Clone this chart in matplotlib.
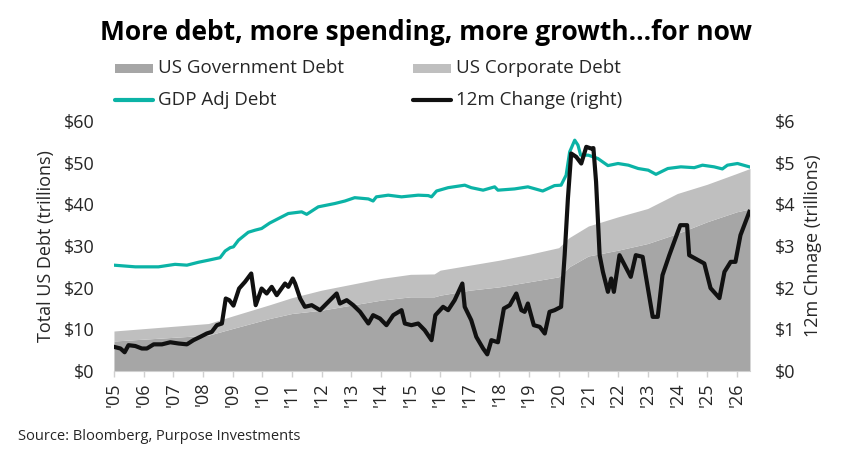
import numpy as np
import matplotlib.pyplot as plt
from matplotlib.patches import Rectangle
from matplotlib.lines import Line2D

plt.rcParams['font.family'] = ['Open Sans', 'DejaVu Sans']

# stacked debt levels (trillions)
stack_years = [2005.0, 2008.19, 2009.0, 2010.25, 2011.0, 2012.0, 2013.0, 2014.0,
               2015.0, 2015.8, 2016.0, 2017.0, 2018.0, 2019.0, 2020.0, 2020.35,
               2021.0, 2022.0, 2023.0, 2024.0, 2025.0, 2026.0, 2026.45]
gov_debt = [7.2, 8.6, 10.2, 12.6, 13.8, 14.6, 15.8, 17.0,
            17.8, 17.8, 18.2, 19.4, 20.2, 21.4, 22.6, 25.0,
            27.6, 29.0, 30.6, 33.0, 35.8, 38.2, 38.9]
corp_debt = [2.4, 2.8, 3.0, 3.3, 3.8, 4.8, 5.0, 5.2,
             5.4, 5.5, 6.0, 6.0, 6.4, 6.6, 7.0, 7.0,
             7.2, 8.0, 8.4, 9.6, 9.0, 9.2, 9.7]

# GDP adjusted debt (left axis)
gdp_years = [2005.0, 2005.72, 2006.5, 2007.06, 2007.46, 2007.85, 2008.19, 2008.58,
             2008.75, 2008.92, 2009.03, 2009.2, 2009.53, 2009.76, 2009.98, 2010.25,
             2010.55, 2010.88, 2011.33, 2011.5, 2011.89, 2012.45, 2012.79, 2013.12,
             2013.58, 2013.74, 2013.85, 2014.25, 2014.7, 2015.26, 2015.6, 2015.71,
             2015.88, 2016.27, 2016.83, 2017.05, 2017.45, 2017.84, 2017.95, 2018.51,
             2018.96, 2019.46, 2019.86, 2020.08, 2020.25, 2020.37, 2020.54, 2020.65,
             2020.74, 2021.0, 2021.32, 2021.66, 2022.0, 2022.35, 2022.68, 2023.02,
             2023.28, 2023.68, 2024.12, 2024.57, 2024.85, 2025.24, 2025.52, 2025.69,
             2026.03, 2026.43]
gdp_adj = [25.4, 25.0, 25.0, 25.6, 25.4, 26.1, 26.6, 27.2,
           28.8, 29.6, 29.8, 31.4, 33.3, 33.8, 34.2, 35.5,
           36.6, 37.8, 38.2, 37.6, 39.4, 40.2, 40.8, 41.6,
           41.3, 40.8, 41.8, 42.2, 41.8, 42.2, 42.1, 41.8,
           43.2, 44.0, 44.6, 44.0, 43.4, 44.2, 43.4, 43.7,
           44.2, 43.2, 44.5, 44.6, 47.0, 52.6, 55.4, 54.2,
           51.8, 51.8, 51.0, 49.3, 49.8, 49.4, 48.6, 48.2,
           47.2, 48.6, 49.0, 48.8, 49.4, 49.0, 48.5, 49.4,
           49.8, 49.0]

# 12m change (right axis)
chg_years = [2005.0, 2005.22, 2005.36, 2005.49, 2005.72, 2005.94, 2006.11, 2006.34,
             2006.62, 2006.9, 2007.18, 2007.46, 2007.68, 2007.91, 2008.13, 2008.3,
             2008.47, 2008.64, 2008.77, 2008.89, 2009.03, 2009.22, 2009.42, 2009.63,
             2009.78, 2009.98, 2010.15, 2010.32, 2010.49, 2010.77, 2010.88, 2011.03,
             2011.11, 2011.28, 2011.44, 2011.67, 2011.95, 2012.23, 2012.51, 2012.62,
             2012.85, 2013.07, 2013.3, 2013.58, 2013.74, 2013.97, 2014.19, 2014.42,
             2014.7, 2014.81, 2015.03, 2015.26, 2015.48, 2015.71, 2015.84, 2016.1,
             2016.27, 2016.49, 2016.75, 2016.83, 2017.05, 2017.22, 2017.45, 2017.59,
             2017.73, 2017.95, 2018.15, 2018.35, 2018.57, 2018.74, 2018.85, 2018.96,
             2019.16, 2019.36, 2019.53, 2019.69, 2019.86, 2020.08, 2020.2, 2020.31,
             2020.42, 2020.59, 2020.76, 2020.93, 2021.09, 2021.17, 2021.26, 2021.38,
             2021.49, 2021.66, 2021.77, 2021.86, 2022.05, 2022.43, 2022.6, 2022.83,
             2023.17, 2023.34, 2023.5, 2023.73, 2024.1, 2024.33, 2024.4, 2024.91,
             2025.12, 2025.42, 2025.59, 2025.8, 2025.96, 2026.13, 2026.43]
chg_12m = [0.58, 0.54, 0.45, 0.62, 0.60, 0.54, 0.54, 0.64,
           0.64, 0.69, 0.66, 0.64, 0.74, 0.82, 0.90, 0.94,
           1.10, 1.14, 1.74, 1.70, 1.57, 1.98, 2.14, 2.34,
           1.58, 1.98, 1.86, 2.02, 1.82, 2.10, 2.02, 2.22,
           2.10, 1.74, 1.54, 1.58, 1.46, 1.66, 1.86, 1.62,
           1.70, 1.58, 1.42, 1.14, 1.34, 1.26, 1.10, 1.34,
           1.46, 1.14, 1.10, 1.14, 0.98, 0.74, 1.34, 1.54,
           1.46, 1.70, 2.10, 1.54, 1.22, 0.82, 0.54, 0.40,
           0.74, 0.69, 1.50, 1.58, 1.86, 1.46, 1.42, 1.62,
           1.10, 1.06, 0.90, 1.42, 1.46, 1.54, 2.78, 4.14,
           5.22, 5.14, 4.98, 5.38, 5.34, 5.35, 4.54, 2.78,
           2.38, 1.90, 2.22, 1.90, 2.78, 2.26, 2.78, 2.74,
           1.30, 1.30, 2.30, 2.78, 3.50, 3.50, 2.78, 2.58,
           1.99, 1.75, 2.38, 2.62, 2.62, 3.26, 3.82]

tick_years = list(range(2005, 2027))
tick_labels = ["'%02d" % (y % 100) for y in tick_years]

gov_color = '#a6a6a6'
corp_color = '#bfbfbf'
teal = '#0bb3a6'
black = '#111111'
text_color = '#262626'

W, H = 853, 449
fig = plt.figure(figsize=(W / 100, H / 100), dpi=100)
ax = fig.add_axes([0.1336, 0.1737, 0.7456, 0.5568])

gov = np.array(gov_debt)
total = gov + np.array(corp_debt)
ax.fill_between(stack_years, 0, gov, color=gov_color, lw=0)
ax.fill_between(stack_years, gov, total, color=corp_color, lw=0)
ax.plot(gdp_years, gdp_adj, color=teal, lw=2.3, solid_joinstyle='round')

ax.set_xlim(2005, 2026.45)
ax.set_ylim(0, 60)
ax.set_yticks(np.arange(0, 61, 10))
ax.set_yticklabels(['$%d' % v for v in range(0, 61, 10)])
ax.set_xticks(tick_years)
ax.set_xticklabels(tick_labels, rotation=90)
ax.tick_params(axis='x', colors='#d0d0d0', labelcolor=text_color, labelsize=13,
               length=4, width=1, pad=4)
ax.tick_params(axis='y', length=0, labelsize=13, labelcolor=text_color, pad=14)
for s in ['top', 'left', 'right']:
    ax.spines[s].set_visible(False)
ax.spines['bottom'].set_color('#d0d0d0')
ax.set_ylabel('Total US Debt (trillions)', fontsize=13, color=text_color, labelpad=6)

ax2 = ax.twinx()
ax2.plot(chg_years, chg_12m, color=black, lw=3, solid_joinstyle='round')
ax2.set_ylim(0, 6)
ax2.set_yticks(range(0, 7))
ax2.set_yticklabels(['$%d' % v for v in range(0, 7)])
ax2.tick_params(axis='y', length=0, labelsize=13, labelcolor=text_color, pad=18)
for s in ['top', 'left', 'right', 'bottom']:
    ax2.spines[s].set_visible(False)
ax2.set_ylabel('12m Chnage (trillions)', fontsize=13, color=text_color, labelpad=6)

fig.text(0.5, 1 - 32 / H, 'More debt, more spending, more growth...for now',
         ha='center', va='center', fontsize=19, fontweight='bold', color='black')

# legend laid out in two rows like the original
legend_items = [('patch', gov_color, 'US Government Debt', 0, 0),
                ('patch', corp_color, 'US Corporate Debt', 1, 0),
                ('line', teal, 'GDP Adj Debt', 0, 1),
                ('line', black, '12m Change (right)', 1, 1)]
col_x = [115, 413]
row_y = [68, 100]
for kind, color, label, c, r in legend_items:
    x0 = col_x[c] / W
    x1 = (col_x[c] + 38) / W
    yc = 1 - row_y[r] / H
    if kind == 'patch':
        fig.add_artist(Rectangle((x0, yc - 4.5 / H), x1 - x0, 9 / H,
                                 transform=fig.transFigure, color=color, lw=0))
    else:
        fig.add_artist(Line2D([x0, x1], [yc, yc], transform=fig.transFigure,
                              color=color, lw=3, solid_capstyle='round'))
    fig.text((col_x[c] + 43) / W, yc, label, ha='left', va='center',
             fontsize=13.5, color=text_color)

fig.text(18 / W, 1 - 436 / H, 'Source: Bloomberg, Purpose Investments',
         fontsize=10.5, color=text_color, va='center')

fig.savefig('out.png', dpi=100)
